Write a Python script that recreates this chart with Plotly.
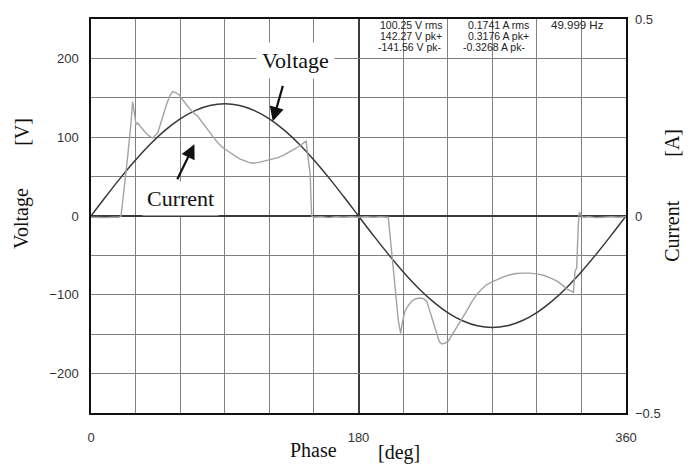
import plotly.graph_objects as go

# ---------------- data ----------------
volt_phase = [0, 10, 20, 30, 40, 50, 60, 70, 80, 90, 100, 110, 120, 130, 140, 150, 160, 170, 180,
              190, 200, 210, 220, 230, 240, 250, 260, 270, 280, 290, 300, 310, 320, 330, 340, 350, 360]
volt_values = [0, 24.7, 48.7, 71.1, 91.4, 109.0, 123.2, 133.7, 140.1, 142.3, 140.1, 133.7, 123.2, 109.0,
               91.4, 71.1, 48.7, 24.7, 0, -24.6, -48.4, -70.8, -91.0, -108.4, -122.6, -133.0, -139.4,
               -141.6, -139.4, -133.0, -122.6, -108.4, -91.0, -70.8, -48.4, -24.6, 0]

curr_phase = [0, 5, 10, 15, 19, 20.2, 22.4, 24.7, 26.9, 28.0, 29.2, 30.3, 31.4, 33.5, 35.9, 38.5, 41.5,
              44.9, 47.5, 50.5, 53, 55, 57, 59.4, 62, 65, 68, 71.8, 75, 78.5, 82, 85.3, 88, 92, 96.9,
              100, 103.6, 106, 109.2, 113, 117, 121, 126, 130, 135, 138, 141.8, 144.7, 146, 147.4, 148.5,
              150, 155, 160, 165, 170, 175, 180, 185, 190, 195, 200, 201.2, 202.9, 204.6, 206.8, 208.4,
              209.5, 211.3, 212.4, 215.8, 218.5, 221.4, 223.8, 225.9, 227.5, 229.3, 231, 232.6, 234.3,
              236, 238, 240.5, 243, 246.1, 249.5, 252.8, 256, 259.6, 263, 266.3, 270, 273, 277, 282, 286,
              291, 295, 300, 305, 309, 314, 318, 321, 323.5, 324.6, 325.7, 326.8, 327.9, 328.6, 330,
              331.3, 335, 340, 345, 350, 355, 360]
curr_values = [-0.003, -0.004, -0.004, -0.003, -0.003, 0.0, 0.069, 0.152, 0.236, 0.29, 0.261, 0.232,
               0.236, 0.225, 0.215, 0.205, 0.198, 0.211, 0.245, 0.279, 0.305, 0.316, 0.313, 0.307, 0.293,
               0.278, 0.265, 0.253, 0.236, 0.219, 0.202, 0.186, 0.176, 0.165, 0.152, 0.145, 0.14, 0.136,
               0.134, 0.136, 0.14, 0.143, 0.148, 0.155, 0.165, 0.172, 0.182, 0.19, 0.15, 0.11, 0.0,
               -0.003, -0.002, -0.004, -0.002, -0.003, -0.002, -0.003, -0.002, -0.003, -0.002, -0.003,
               -0.048, -0.11, -0.174, -0.266, -0.298, -0.27, -0.241, -0.233, -0.216, -0.21, -0.208, -0.21,
               -0.216, -0.235, -0.258, -0.28, -0.3, -0.318, -0.325, -0.323, -0.317, -0.302, -0.283,
               -0.262, -0.241, -0.219, -0.199, -0.185, -0.174, -0.167, -0.162, -0.155, -0.149, -0.146,
               -0.145, -0.145, -0.147, -0.151, -0.157, -0.166, -0.178, -0.187, -0.191, -0.195, -0.14,
               -0.132, -0.023, 0.01, 0.0, -0.003, -0.002, -0.004, -0.003, -0.002, -0.003, -0.002]

x_tick_vals = [0, 180, 360]
x_tick_text = ["0", "180", "360"]
y_tick_vals = [-200, -100, 0, 100, 200]
y2_tick_vals = [-0.5, 0, 0.5]

info_col1 = ["100.25 V rms", "142.27 V pk+", "-141.56 V pk-"]
info_col2 = ["0.1741 A rms", "0.3176 A pk+", "-0.3268 A pk-"]
info_col3 = ["49.999 Hz"]

# ---------------- geometry helpers (pixel -> paper) ----------------
L, R, T, B = 91, 626, 15, 413
W, H = 700, 464
def px(xp):
    return (xp - L) / (R - L)
def py(yp):
    return (B - yp) / (B - T)

SERIF = "Liberation Serif, Times New Roman, serif"
SANS = "Liberation Sans, Arial, sans-serif"

fig = go.Figure()
fig.add_trace(go.Scatter(x=curr_phase, y=curr_values, yaxis="y2", mode="lines",
                         line=dict(color="#a3a3a3", width=1.4), showlegend=False))
fig.add_trace(go.Scatter(x=volt_phase, y=volt_values, mode="lines",
                         line=dict(color="#383838", width=1.5, shape="spline", smoothing=1.0),
                         showlegend=False))

annotations = []
# in-plot labels with white boxes (data coordinates: phase deg / volts)
annotations.append(dict(x=137.3, y=197.0, xref="x", yref="y", text="Voltage",
                        showarrow=False, font=dict(family=SERIF, size=22, color="#111"),
                        bgcolor="white", borderpad=5))
annotations.append(dict(x=60.3, y=22.6, xref="x", yref="y", text="Current",
                        showarrow=False, font=dict(family=SERIF, size=22, color="#111"),
                        bgcolor="white", borderpad=4))
# arrows (tip at curve, tail given absolutely in data coordinates)
annotations.append(dict(x=122.3, y=120.2, xref="x", yref="y", ax=129.2, ay=165.8,
                        axref="x", ayref="y", text="", font=dict(size=1),
                        showarrow=True, arrowhead=2, arrowsize=1.3, arrowwidth=2.2,
                        arrowcolor="#111", standoff=0, startstandoff=0, borderpad=0))
annotations.append(dict(x=69.6, y=91.1, xref="x", yref="y", ax=57.9, ay=46.1,
                        axref="x", ayref="y", text="", font=dict(size=1),
                        showarrow=True, arrowhead=2, arrowsize=1.3, arrowwidth=2.2,
                        arrowcolor="#111", standoff=0, startstandoff=0, borderpad=0))
# info text (one line at a time, tight leading as in the instrument readout)
row_y = [21, 32, 43]
for i, t in enumerate(info_col1):
    annotations.append(dict(x=px(444), y=py(row_y[i]), xref="paper", yref="paper", text=t,
                            showarrow=False, xanchor="right", yanchor="middle",
                            font=dict(family=SANS, size=10.5, color="#222")))
col2_x = [466, 466, 461]
for i, t in enumerate(info_col2):
    annotations.append(dict(x=px(col2_x[i]), y=py(row_y[i]), xref="paper", yref="paper", text=t,
                            showarrow=False, xanchor="left", yanchor="middle",
                            font=dict(family=SANS, size=10.5, color="#222")))
for i, t in enumerate(info_col3):
    annotations.append(dict(x=px(549), y=py(row_y[i]), xref="paper", yref="paper", text=t,
                            showarrow=False, xanchor="left", yanchor="middle",
                            font=dict(family=SANS, size=11.5, color="#222")))
# axis titles
for txt, xx, yy, ang in [("Voltage", 22, 217, -90), ("[V]", 22, 129, -90),
                         ("Current", 672, 229, -90), ("[A]", 672, 140, -90),
                         ("Phase", 313, 450, 0), ("[deg]", 399, 453, 0)]:
    annotations.append(dict(x=px(xx), y=py(yy), xref="paper", yref="paper", text=txt,
                            showarrow=False, textangle=ang, xanchor="center", yanchor="middle",
                            font=dict(family=SERIF, size=20, color="#111")))

fig.update_layout(
    width=W, height=H,
    margin=dict(l=L, r=W - R, t=T, b=H - B, pad=0),
    paper_bgcolor="white", plot_bgcolor="white",
    annotations=annotations,
    xaxis=dict(range=[0, 360], tickvals=x_tick_vals, ticktext=x_tick_text,
               showgrid=True, gridcolor="#3a3a3a", gridwidth=1.5,
               minor=dict(dtick=30, tick0=0, showgrid=True, gridcolor="#808080", gridwidth=1.4),
               zeroline=False, showline=True, mirror=True, linecolor="#111", linewidth=1.5,
               ticks="", ticklabelstandoff=12,
               tickfont=dict(family=SANS, size=13, color="#333")),
    yaxis=dict(range=[-250, 250], tickvals=y_tick_vals,
               showgrid=True, gridcolor="#808080", gridwidth=1.4,
               minor=dict(dtick=50, tick0=0, showgrid=True, gridcolor="#808080", gridwidth=1.4),
               zeroline=True, zerolinecolor="#3a3a3a", zerolinewidth=1.5,
               showline=True, mirror=True, linecolor="#111", linewidth=1.5,
               ticks="", ticklabelstandoff=8,
               tickfont=dict(family=SANS, size=13, color="#333")),
    yaxis2=dict(range=[-0.5, 0.5], tickvals=y2_tick_vals, overlaying="y", side="right",
                showgrid=False, zeroline=False, showline=False, ticks="", ticklabelstandoff=8,
                tickfont=dict(family=SANS, size=13, color="#333")),
)

fig.write_html("out.html")
